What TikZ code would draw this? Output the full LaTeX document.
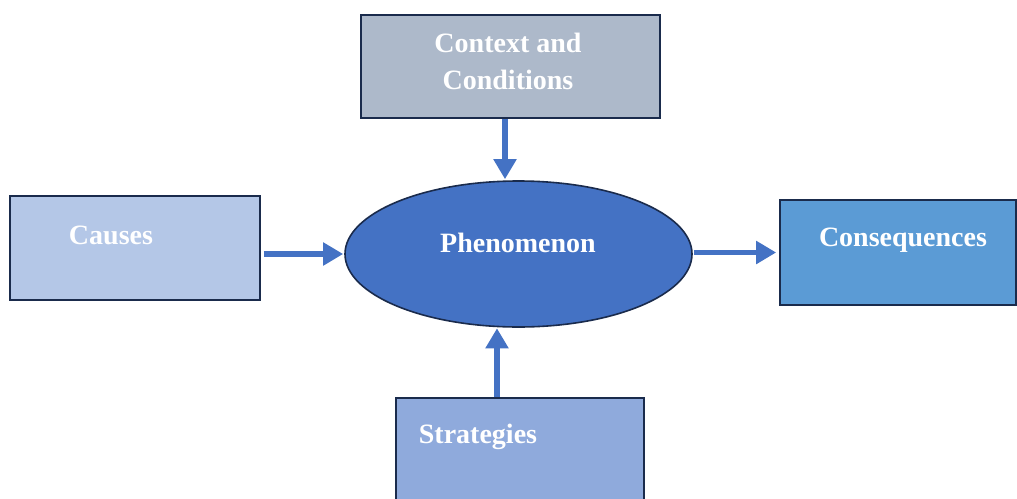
\documentclass[tikz,border=0pt]{standalone}
\usepackage{fontspec}
\setmainfont{Liberation Serif}
\usetikzlibrary{shapes.geometric,arrows.meta}
\definecolor{ctxfill}{HTML}{ADB9CA}
\definecolor{causefill}{HTML}{B4C7E7}
\definecolor{phfill}{HTML}{4472C4}
\definecolor{consfill}{HTML}{5B9BD5}
\definecolor{stratfill}{HTML}{8FAADC}
\definecolor{arrcol}{HTML}{4472C4}
\definecolor{edgecol}{HTML}{1A2B4C}
\tikzset{
  box/.style={draw=edgecol, line width=1.6pt, inner sep=0pt},
  lbl/.style={text=white, font=\fontsize{28}{37}\selectfont\bfseries, inner sep=0pt, align=center},
  arr/.style={draw=arrcol, line width=5.5pt, -{Triangle[length=20pt,width=22pt]}}
}
\begin{document}
\begin{tikzpicture}[x=1pt,y=-1pt]
\clip (0,0) rectangle (1017,498);
\useasboundingbox (0,0) rectangle (1017,498);
\fill[white] (0,0) rectangle (1017,498);
% boxes
\node[box, fill=ctxfill, minimum width=299pt, minimum height=103pt] (ctx) at (510.5,66.5) {};
\node[box, fill=causefill, minimum width=250pt, minimum height=104pt] (cause) at (135,248) {};
\node[box, fill=consfill, minimum width=236pt, minimum height=105pt] (cons) at (898,252.5) {};
\node[box, fill=stratfill, minimum width=248pt, minimum height=110pt] (strat) at (520,453) {};
\node[ellipse, draw=edgecol, line width=1.6pt, fill=phfill, minimum width=347pt, minimum height=146pt, inner sep=0pt] (ph) at (518.5,254) {};
% labels
\node[lbl] (ctxt) at (508,61.5) {Context and\\Conditions};
\node[lbl] (causet) at (111,235) {Causes};
\node[lbl] (pht) at (518,243) {Phenomenon};
\node[lbl] (const) at (903,240) {Consequences};
\node[lbl] (stratt) at (478,437) {Strategies};
% arrows
\draw[arr] ([xshift=-5.5pt]ctx.south) -- ([xshift=-13.5pt,yshift=1pt]ph.north);
\draw[arr] ([xshift=3pt]cause.east |- ph.west) -- ([xshift=-1pt]ph.west);
\draw[arr] ([xshift=1.5pt,yshift=1.5pt]ph.east) -- ([xshift=-3pt,yshift=1.5pt]cons.west |- ph.east);
\draw[arr] ([xshift=-23pt]strat.north) -- ([xshift=-21.5pt,yshift=-0.5pt]ph.south);
\end{tikzpicture}
\end{document}
